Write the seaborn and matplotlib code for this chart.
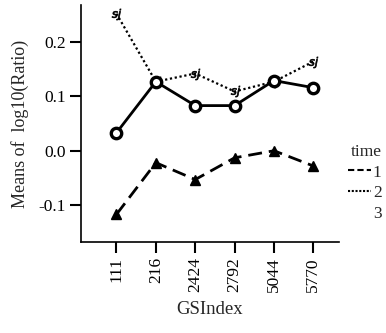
import matplotlib
matplotlib.use("Agg")
import matplotlib.pyplot as plt
import seaborn as sns
import pandas as pd
from matplotlib.lines import Line2D

gsindex = ["111", "216", "2424", "2792", "5044", "5770"]
time1 = [-0.117, -0.022, -0.053, -0.013, 0.000, -0.028]
time2 = [0.252, 0.127, 0.142, 0.109, 0.127, 0.164]
time3 = [0.033, 0.127, 0.083, 0.083, 0.129, 0.116]
yticks = [-0.1, 0.0, 0.1, 0.2]

df = pd.DataFrame({
    "GSIndex": gsindex * 3,
    "value": time1 + time2 + time3,
    "time": ["1"] * 6 + ["2"] * 6 + ["3"] * 6,
})

sns.set_style("ticks")
plt.rcParams["font.family"] = ["Liberation Serif", "DejaVu Serif"]

fig = plt.figure(figsize=(3.86, 3.33), dpi=100)
ax = fig.add_axes([0.21, 0.273, 0.668, 0.712])

sns.lineplot(data=df, x="GSIndex", y="value", style="time", color="black",
             dashes={"1": (5, 2.5), "2": (1, 1.2), "3": ""},
             markers={"1": "^", "2": "$sj$", "3": "o"},
             markersize=8, linewidth=2, legend=False, ax=ax, sort=False)

for line in ax.lines:
    line.set_markeredgecolor("black")
    m = line.get_marker()
    if m == "o":
        line.set_markerfacecolor("white")
        line.set_markeredgewidth(2.4)
        line.set_markersize(7.5)
    elif m == "^":
        line.set_markerfacecolor("black")
        line.set_markeredgewidth(1)
        line.set_markersize(7)
    else:
        line.set_markerfacecolor("black")
        line.set_markeredgewidth(0.5)
        line.set_markersize(8)
        line.set_linewidth(1.6)

ax.set_xlim(-0.9, 5.65)
ax.set_ylim(-0.168, 0.268)
ax.set_yticks(yticks)
ax.set_yticklabels([f"{t:.1f}" for t in yticks], fontsize=12.5)
ax.set_xticks(range(len(gsindex)))
ax.set_xticklabels(gsindex, rotation=90, fontsize=12.5)
ax.tick_params(axis="both", direction="out", length=8, width=1.5, colors="black", pad=3)
ax.set_xlabel("GSIndex", fontsize=13.5, labelpad=6)
ax.set_ylabel("Means of  log10(Ratio)", fontsize=13, labelpad=7)
sns.despine(ax=ax)
for s in ["left", "bottom"]:
    ax.spines[s].set_linewidth(1.2)
    ax.spines[s].set_color("black")

handles = [
    Line2D([], [], color="black", linestyle=(0, (3, 1.5)), linewidth=1.5),
    Line2D([], [], color="black", linestyle=(0, (1, 0.8)), linewidth=1.5),
    Line2D([], [], color="white", linewidth=0),
]
leg = ax.legend(handles, ["1", "2", "3"], title="time", loc="center left",
                bbox_to_anchor=(0.99, 0.25), frameon=False, fontsize=12.5,
                title_fontsize=12.5, handlelength=1.3, handletextpad=0.1,
                labelspacing=0.25, borderaxespad=0.3)
leg._legend_box.align = "right"

fig.savefig("out.png", dpi=100)
